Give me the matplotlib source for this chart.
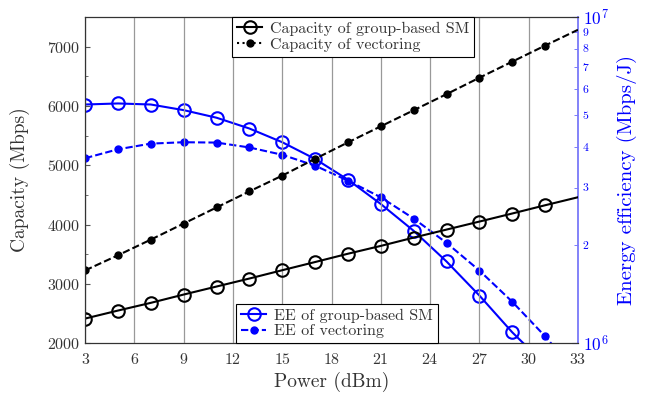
import numpy as np
import matplotlib
matplotlib.use("Agg")
import matplotlib.pyplot as plt
from matplotlib.lines import Line2D
from matplotlib.ticker import MultipleLocator, LogLocator, FuncFormatter, LogFormatterMathtext

plt.rcParams['font.family'] = 'serif'
plt.rcParams['font.serif'] = ['cmr10']
plt.rcParams['mathtext.fontset'] = 'cm'
plt.rcParams['axes.formatter.use_mathtext'] = True

# data
power = [3, 5, 7, 9, 11, 13, 15, 17, 19, 21, 23, 25, 27, 29, 31, 33]
cap_sm = [2415, 2550, 2680, 2820, 2955, 3090, 3230, 3368, 3508, 3640, 3780, 3915, 4050, 4186, 4325, 4460]
cap_vec = [3227, 3482, 3746, 4017, 4288, 4559, 4825, 5108, 5385, 5656, 5927, 6198, 6475, 6746, 7017, 7283]
ee_sm = [5.39e6, 5.43e6, 5.39e6, 5.18e6, 4.91e6, 4.55e6, 4.13e6, 3.67e6, 3.17e6, 2.67e6,
         2.21e6, 1.78e6, 1.40e6, 1.08e6, 0.86e6, 0.68e6]
ee_vec = [3.69e6, 3.93e6, 4.09e6, 4.13e6, 4.12e6, 3.98e6, 3.78e6, 3.50e6, 3.15e6, 2.80e6,
          2.41e6, 2.03e6, 1.67e6, 1.34e6, 1.05e6, 0.80e6]

blue = (0, 0, 1)
grey_txt = '#333333'
dash = (0, (3.5, 1.5))
marks = list(range(15))

fig = plt.figure(figsize=(6.45, 3.94), dpi=100)
ax1 = fig.add_axes([0.132, 0.129, 0.764, 0.828])
ax2 = ax1.twinx()
ax1.set_zorder(ax2.get_zorder() + 1)
ax1.patch.set_visible(False)

# EE curves (right, log axis)
ax2.plot(power, ee_sm, color=blue, lw=1.5, marker='o', ms=9, mfc='none', mew=1.5, markevery=marks)
ax2.plot(power, ee_vec, color=blue, lw=1.5, ls=dash, marker='o', ms=5, markevery=marks)
ax2.set_yscale('log')
ax2.set_ylim(1e6, 1e7)
ax2.yaxis.set_major_locator(LogLocator(base=10, numticks=5))
ax2.yaxis.set_major_formatter(LogFormatterMathtext())
ax2.yaxis.set_minor_locator(LogLocator(base=10, subs=np.arange(2, 10), numticks=20))
ax2.yaxis.set_minor_formatter(FuncFormatter(lambda v, p: '%d' % round(v / 1e6)))
ax2.tick_params(axis='y', which='major', direction='in', colors='#6666ff', labelcolor=blue,
                labelsize=12.5, length=4)
ax2.tick_params(axis='y', which='minor', direction='in', colors='#6666ff', labelcolor=blue,
                labelsize=8.5, length=3)
ax2.spines['right'].set_color('#7777ff')
ax2.spines['right'].set_linewidth(1.3)
ax2.set_ylabel('Energy efficiency (Mbps/J)', color=blue, fontsize=15, labelpad=6)

# capacity curves (left axis)
ax1.plot(power, cap_sm, color='black', lw=1.5, marker='o', ms=9, mfc='none', mew=1.5, markevery=marks)
ax1.plot(power, cap_vec, color='black', lw=1.5, ls=dash, marker='o', ms=5, markevery=marks)
ax1.set_xlim(3, 33)
ax1.set_ylim(2000, 7500)
ax1.set_xticks(range(3, 34, 3))
ax1.yaxis.set_major_locator(MultipleLocator(1000))
ax1.yaxis.set_minor_locator(MultipleLocator(500))
ax1.tick_params(axis='both', which='both', direction='in', labelsize=11.5, colors='#555555',
                labelcolor=grey_txt)
ax1.tick_params(axis='x', length=0, pad=6)
ax1.grid(axis='x', color='#999999', lw=0.9)
ax1.set_xlabel('Power (dBm)', fontsize=14, color=grey_txt)
ax1.set_ylabel('Capacity (Mbps)', fontsize=14, color=grey_txt, labelpad=12)
for s in ['left', 'bottom', 'top']:
    ax1.spines[s].set_color('#333333')
ax1.spines['right'].set_visible(False)

# legends
h1 = [Line2D([], [], color='black', lw=1.5, marker='o', ms=9, mfc='none', mew=1.5),
      Line2D([], [], color='black', lw=1.5, ls=':', marker='o', ms=5)]
leg1 = ax1.legend(h1, ['Capacity of group-based SM', 'Capacity of vectoring'],
                  loc='upper left', bbox_to_anchor=(0.298, 1.0), fontsize=11.5,
                  fancybox=False, edgecolor='black', framealpha=1, handlelength=1.6,
                  borderpad=0.3, labelspacing=0.1, handletextpad=0.5, borderaxespad=0)
leg1.get_frame().set_linewidth(0.8)
for t in leg1.get_texts():
    t.set_color(grey_txt)

h2 = [Line2D([], [], color=blue, lw=1.5, marker='o', ms=9, mfc='none', mew=1.5),
      Line2D([], [], color=blue, lw=1.5, ls=dash, marker='o', ms=5)]
leg2 = ax1.legend(h2, ['EE of group-based SM', 'EE of vectoring'],
                  loc='lower left', bbox_to_anchor=(0.306, 0.0), fontsize=11.5,
                  fancybox=False, edgecolor='black', framealpha=1, handlelength=1.6,
                  borderpad=0.3, labelspacing=0.1, handletextpad=0.5, borderaxespad=0)
leg2.get_frame().set_linewidth(0.8)
for t in leg2.get_texts():
    t.set_color(grey_txt)
ax1.add_artist(leg1)

fig.savefig('out.png', dpi=100)
